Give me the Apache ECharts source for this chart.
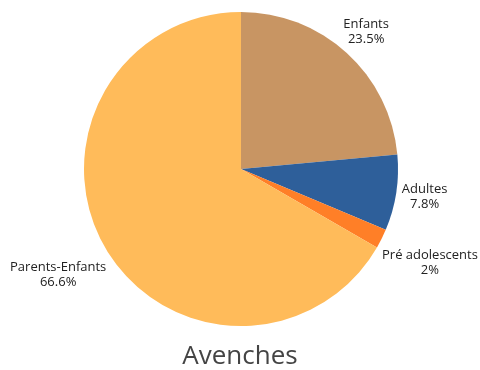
<!DOCTYPE html>
<html><head><meta charset="utf-8">
<script src="https://cdn.jsdelivr.net/npm/echarts@6/dist/echarts.min.js"></script>
<style>html,body{margin:0;padding:0;background:#fff}#c{width:480px;height:370px}</style>
</head><body><div id="c"></div>
<script>
const categories = ["Enfants", "Adultes", "Pré adolescents", "Parents-Enfants"];
const values = [23.5, 7.8, 2, 66.6];
const labelTexts = ["23.5%", "7.8%", "2%", "66.6%"];
const colors = ["#C89563", "#2E5F9A", "#FF7F27", "#FFBB5A"];

const chart = echarts.init(document.getElementById('c'));
const cx = 241, cy = 169, R = 157, labelR = 163;
const fontSize = 13, lineH = 15;
const ctx = document.createElement('canvas').getContext('2d');
ctx.font = fontSize + 'px "Open Sans"';
const halfW = categories.map((c, i) => Math.max(ctx.measureText(c).width, ctx.measureText(labelTexts[i]).width) / 2);
const total = values.reduce((a, b) => a + b, 0);
let cum = 0;
const mids = values.map(v => { const m = cum + v / 2; cum += v; return m / total * 2 * Math.PI; });
chart.setOption({
  animation: false,
  title: {
    text: 'Avenches', left: 'center', top: 339,
    textStyle: { fontFamily: 'Open Sans', fontSize: 26, fontWeight: 'normal', color: '#444' }
  },
  series: [{
    type: 'pie',
    center: [cx, cy],
    radius: [0, R],
    startAngle: 90,
    clockwise: true,
    data: categories.map((c, i) => ({ name: c, value: values[i], itemStyle: { color: colors[i] }, label: { formatter: c + '\n' + labelTexts[i] } })),
    label: {
      show: true, position: 'outside', fontFamily: 'Open Sans', fontSize: fontSize, color: '#222', lineHeight: lineH, align: 'center', overflow: 'none'
    },
    labelLine: { show: false },
    labelLayout: function (p) {
      const i = p.dataIndex;
      const a = mids[i];
      const dx = Math.sin(a), dy = -Math.cos(a);
      const d = labelR + halfW[i];
      return { x: cx + dx * d, y: cy + dy * d, align: 'center', verticalAlign: 'middle' };
    }
  }]
});
</script></body></html>
